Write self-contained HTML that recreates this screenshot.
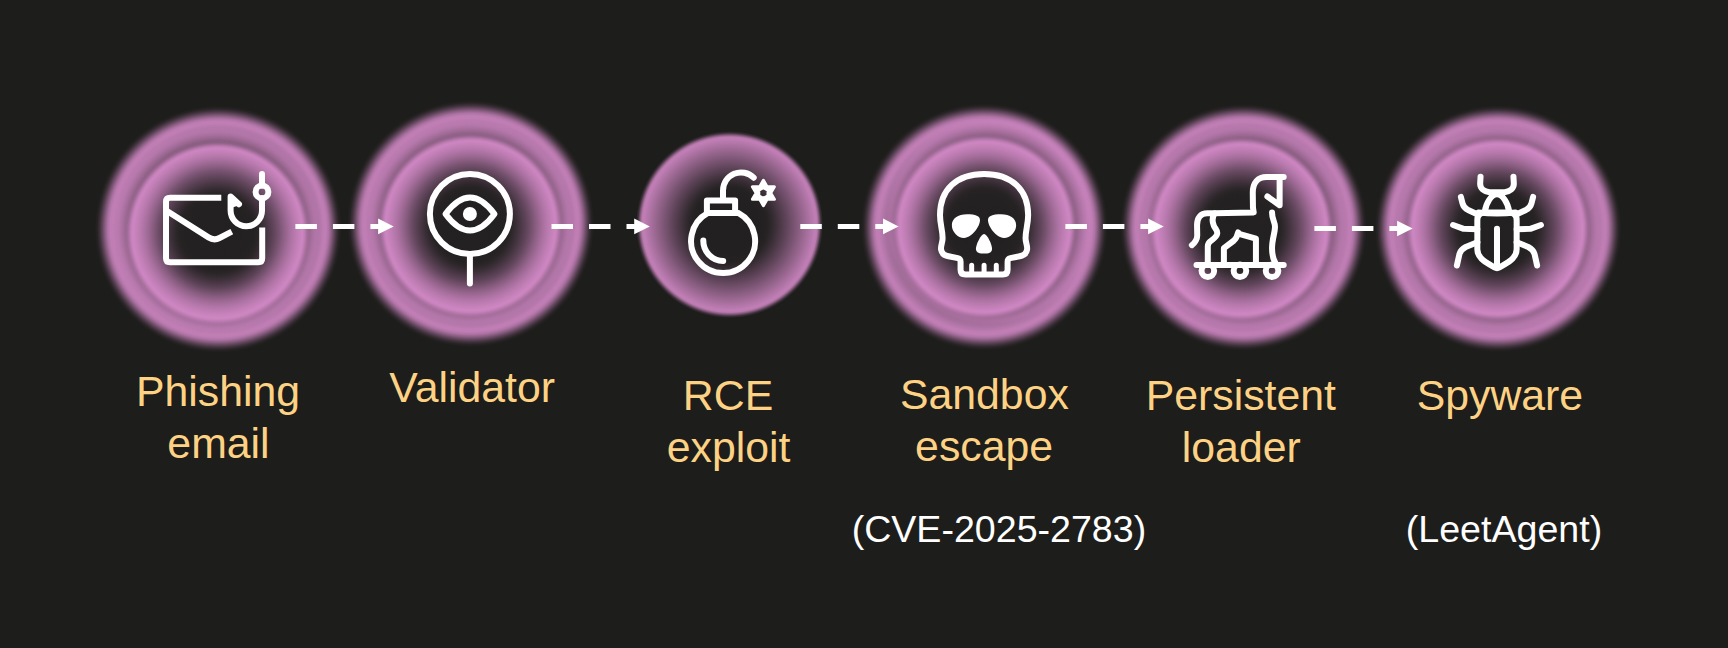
<!DOCTYPE html>
<html lang="en"><head><meta charset="utf-8"><title>Attack chain</title>
<style>
html,body{margin:0;padding:0;background:#1d1d1b;}
body{width:1728px;height:648px;overflow:hidden;position:relative;font-family:"Liberation Sans",sans-serif;}
svg{position:absolute;left:0;top:0;display:block}
text{font-family:"Liberation Sans",sans-serif;}
</style></head><body>
<svg width="1728" height="648" viewBox="0 0 1728 648">
<defs><radialGradient id="gO" gradientUnits="objectBoundingBox" cx="0.5" cy="0.5" r="0.5"><stop offset="0.0000" stop-color="#d48ac8" stop-opacity="0.0012"/><stop offset="0.0208" stop-color="#d48ac8" stop-opacity="0.0012"/><stop offset="0.0417" stop-color="#d48ac8" stop-opacity="0.0013"/><stop offset="0.0625" stop-color="#d48ac8" stop-opacity="0.0014"/><stop offset="0.0833" stop-color="#d48ac8" stop-opacity="0.0014"/><stop offset="0.1042" stop-color="#d48ac8" stop-opacity="0.0015"/><stop offset="0.1250" stop-color="#d48ac8" stop-opacity="0.0016"/><stop offset="0.1458" stop-color="#d48ac8" stop-opacity="0.0017"/><stop offset="0.1667" stop-color="#d48ac8" stop-opacity="0.0018"/><stop offset="0.1875" stop-color="#d48ac8" stop-opacity="0.0020"/><stop offset="0.2083" stop-color="#d48ac8" stop-opacity="0.0021"/><stop offset="0.2292" stop-color="#d48ac8" stop-opacity="0.0023"/><stop offset="0.2500" stop-color="#d48ac8" stop-opacity="0.0025"/><stop offset="0.2708" stop-color="#d48ac8" stop-opacity="0.0027"/><stop offset="0.2917" stop-color="#d48ac8" stop-opacity="0.0030"/><stop offset="0.3125" stop-color="#d48ac8" stop-opacity="0.0034"/><stop offset="0.3333" stop-color="#d48ac8" stop-opacity="0.0038"/><stop offset="0.3542" stop-color="#d48ac8" stop-opacity="0.0044"/><stop offset="0.3750" stop-color="#d48ac8" stop-opacity="0.0053"/><stop offset="0.3958" stop-color="#d48ac8" stop-opacity="0.0065"/><stop offset="0.4167" stop-color="#d48ac8" stop-opacity="0.0084"/><stop offset="0.4375" stop-color="#d48ac8" stop-opacity="0.0117"/><stop offset="0.4583" stop-color="#d48ac8" stop-opacity="0.0183"/><stop offset="0.4792" stop-color="#d48ac8" stop-opacity="0.0338"/><stop offset="0.5000" stop-color="#d48ac8" stop-opacity="0.0641"/><stop offset="0.5208" stop-color="#d48ac8" stop-opacity="0.1053"/><stop offset="0.5417" stop-color="#d48ac8" stop-opacity="0.1509"/><stop offset="0.5625" stop-color="#d48ac8" stop-opacity="0.1983"/><stop offset="0.5833" stop-color="#d48ac8" stop-opacity="0.2465"/><stop offset="0.6042" stop-color="#d48ac8" stop-opacity="0.2951"/><stop offset="0.6250" stop-color="#d48ac8" stop-opacity="0.3440"/><stop offset="0.6458" stop-color="#d48ac8" stop-opacity="0.3931"/><stop offset="0.6667" stop-color="#d48ac8" stop-opacity="0.4423"/><stop offset="0.6875" stop-color="#d48ac8" stop-opacity="0.4915"/><stop offset="0.7083" stop-color="#d48ac8" stop-opacity="0.5408"/><stop offset="0.7292" stop-color="#d48ac8" stop-opacity="0.5902"/><stop offset="0.7500" stop-color="#d48ac8" stop-opacity="0.6396"/><stop offset="0.7708" stop-color="#d48ac8" stop-opacity="0.6890"/><stop offset="0.7917" stop-color="#d48ac8" stop-opacity="0.7384"/><stop offset="0.8125" stop-color="#d48ac8" stop-opacity="0.7879"/><stop offset="0.8333" stop-color="#d48ac8" stop-opacity="0.8373"/><stop offset="0.8542" stop-color="#d48ac8" stop-opacity="0.8868"/><stop offset="0.8750" stop-color="#d48ac8" stop-opacity="0.8843"/><stop offset="0.8958" stop-color="#d48ac8" stop-opacity="0.7902"/><stop offset="0.9167" stop-color="#d48ac8" stop-opacity="0.6062"/><stop offset="0.9375" stop-color="#d48ac8" stop-opacity="0.3934"/><stop offset="0.9583" stop-color="#d48ac8" stop-opacity="0.1982"/><stop offset="0.9792" stop-color="#d48ac8" stop-opacity="0.0554"/><stop offset="1.0000" stop-color="#d48ac8" stop-opacity="0.0000"/></radialGradient><radialGradient id="gM" gradientUnits="objectBoundingBox" cx="0.5" cy="0.5" r="0.5"><stop offset="0.0000" stop-color="#d48ac8" stop-opacity="0.0001"/><stop offset="0.0208" stop-color="#d48ac8" stop-opacity="0.0001"/><stop offset="0.0417" stop-color="#d48ac8" stop-opacity="0.0001"/><stop offset="0.0625" stop-color="#d48ac8" stop-opacity="0.0001"/><stop offset="0.0833" stop-color="#d48ac8" stop-opacity="0.0001"/><stop offset="0.1042" stop-color="#d48ac8" stop-opacity="0.0001"/><stop offset="0.1250" stop-color="#d48ac8" stop-opacity="0.0001"/><stop offset="0.1458" stop-color="#d48ac8" stop-opacity="0.0001"/><stop offset="0.1667" stop-color="#d48ac8" stop-opacity="0.0001"/><stop offset="0.1875" stop-color="#d48ac8" stop-opacity="0.0001"/><stop offset="0.2083" stop-color="#d48ac8" stop-opacity="0.0001"/><stop offset="0.2292" stop-color="#d48ac8" stop-opacity="0.0001"/><stop offset="0.2500" stop-color="#d48ac8" stop-opacity="0.0001"/><stop offset="0.2708" stop-color="#d48ac8" stop-opacity="0.0001"/><stop offset="0.2917" stop-color="#d48ac8" stop-opacity="0.0001"/><stop offset="0.3125" stop-color="#d48ac8" stop-opacity="0.0001"/><stop offset="0.3333" stop-color="#d48ac8" stop-opacity="0.0001"/><stop offset="0.3542" stop-color="#d48ac8" stop-opacity="0.0001"/><stop offset="0.3750" stop-color="#d48ac8" stop-opacity="0.0001"/><stop offset="0.3958" stop-color="#d48ac8" stop-opacity="0.0002"/><stop offset="0.4167" stop-color="#d48ac8" stop-opacity="0.0002"/><stop offset="0.4375" stop-color="#d48ac8" stop-opacity="0.0002"/><stop offset="0.4583" stop-color="#d48ac8" stop-opacity="0.0002"/><stop offset="0.4792" stop-color="#d48ac8" stop-opacity="0.0002"/><stop offset="0.5000" stop-color="#d48ac8" stop-opacity="0.0002"/><stop offset="0.5208" stop-color="#d48ac8" stop-opacity="0.0002"/><stop offset="0.5417" stop-color="#d48ac8" stop-opacity="0.0002"/><stop offset="0.5625" stop-color="#d48ac8" stop-opacity="0.0002"/><stop offset="0.5833" stop-color="#d48ac8" stop-opacity="0.0003"/><stop offset="0.6042" stop-color="#d48ac8" stop-opacity="0.0003"/><stop offset="0.6250" stop-color="#d48ac8" stop-opacity="0.0003"/><stop offset="0.6458" stop-color="#d48ac8" stop-opacity="0.0004"/><stop offset="0.6667" stop-color="#d48ac8" stop-opacity="0.0004"/><stop offset="0.6875" stop-color="#d48ac8" stop-opacity="0.0005"/><stop offset="0.7083" stop-color="#d48ac8" stop-opacity="0.0006"/><stop offset="0.7292" stop-color="#d48ac8" stop-opacity="0.0007"/><stop offset="0.7500" stop-color="#d48ac8" stop-opacity="0.0009"/><stop offset="0.7708" stop-color="#d48ac8" stop-opacity="0.0012"/><stop offset="0.7917" stop-color="#d48ac8" stop-opacity="0.0018"/><stop offset="0.8125" stop-color="#d48ac8" stop-opacity="0.0041"/><stop offset="0.8333" stop-color="#d48ac8" stop-opacity="0.0257"/><stop offset="0.8542" stop-color="#d48ac8" stop-opacity="0.0823"/><stop offset="0.8750" stop-color="#d48ac8" stop-opacity="0.1431"/><stop offset="0.8958" stop-color="#d48ac8" stop-opacity="0.2045"/><stop offset="0.9167" stop-color="#d48ac8" stop-opacity="0.2660"/><stop offset="0.9375" stop-color="#d48ac8" stop-opacity="0.2998"/><stop offset="0.9583" stop-color="#d48ac8" stop-opacity="0.2220"/><stop offset="0.9792" stop-color="#d48ac8" stop-opacity="0.0734"/><stop offset="1.0000" stop-color="#d48ac8" stop-opacity="0.0000"/></radialGradient><radialGradient id="gI" gradientUnits="objectBoundingBox" cx="0.5" cy="0.5" r="0.5"><stop offset="0.0000" stop-color="#d48ac8" stop-opacity="0.0314"/><stop offset="0.0208" stop-color="#d48ac8" stop-opacity="0.0315"/><stop offset="0.0417" stop-color="#d48ac8" stop-opacity="0.0316"/><stop offset="0.0625" stop-color="#d48ac8" stop-opacity="0.0317"/><stop offset="0.0833" stop-color="#d48ac8" stop-opacity="0.0318"/><stop offset="0.1042" stop-color="#d48ac8" stop-opacity="0.0319"/><stop offset="0.1250" stop-color="#d48ac8" stop-opacity="0.0320"/><stop offset="0.1458" stop-color="#d48ac8" stop-opacity="0.0322"/><stop offset="0.1667" stop-color="#d48ac8" stop-opacity="0.0324"/><stop offset="0.1875" stop-color="#d48ac8" stop-opacity="0.0326"/><stop offset="0.2083" stop-color="#d48ac8" stop-opacity="0.0328"/><stop offset="0.2292" stop-color="#d48ac8" stop-opacity="0.0331"/><stop offset="0.2500" stop-color="#d48ac8" stop-opacity="0.0334"/><stop offset="0.2708" stop-color="#d48ac8" stop-opacity="0.0339"/><stop offset="0.2917" stop-color="#d48ac8" stop-opacity="0.0344"/><stop offset="0.3125" stop-color="#d48ac8" stop-opacity="0.0352"/><stop offset="0.3333" stop-color="#d48ac8" stop-opacity="0.0362"/><stop offset="0.3542" stop-color="#d48ac8" stop-opacity="0.0377"/><stop offset="0.3750" stop-color="#d48ac8" stop-opacity="0.0402"/><stop offset="0.3958" stop-color="#d48ac8" stop-opacity="0.0446"/><stop offset="0.4167" stop-color="#d48ac8" stop-opacity="0.0535"/><stop offset="0.4375" stop-color="#d48ac8" stop-opacity="0.0709"/><stop offset="0.4583" stop-color="#d48ac8" stop-opacity="0.0980"/><stop offset="0.4792" stop-color="#d48ac8" stop-opacity="0.1309"/><stop offset="0.5000" stop-color="#d48ac8" stop-opacity="0.1663"/><stop offset="0.5208" stop-color="#d48ac8" stop-opacity="0.2028"/><stop offset="0.5417" stop-color="#d48ac8" stop-opacity="0.2400"/><stop offset="0.5625" stop-color="#d48ac8" stop-opacity="0.2775"/><stop offset="0.5833" stop-color="#d48ac8" stop-opacity="0.3153"/><stop offset="0.6042" stop-color="#d48ac8" stop-opacity="0.3532"/><stop offset="0.6250" stop-color="#d48ac8" stop-opacity="0.3911"/><stop offset="0.6458" stop-color="#d48ac8" stop-opacity="0.4292"/><stop offset="0.6667" stop-color="#d48ac8" stop-opacity="0.4673"/><stop offset="0.6875" stop-color="#d48ac8" stop-opacity="0.5054"/><stop offset="0.7083" stop-color="#d48ac8" stop-opacity="0.5436"/><stop offset="0.7292" stop-color="#d48ac8" stop-opacity="0.5818"/><stop offset="0.7500" stop-color="#d48ac8" stop-opacity="0.6200"/><stop offset="0.7708" stop-color="#d48ac8" stop-opacity="0.6583"/><stop offset="0.7917" stop-color="#d48ac8" stop-opacity="0.6965"/><stop offset="0.8125" stop-color="#d48ac8" stop-opacity="0.7348"/><stop offset="0.8333" stop-color="#d48ac8" stop-opacity="0.7731"/><stop offset="0.8542" stop-color="#d48ac8" stop-opacity="0.8113"/><stop offset="0.8750" stop-color="#d48ac8" stop-opacity="0.8496"/><stop offset="0.8958" stop-color="#d48ac8" stop-opacity="0.8879"/><stop offset="0.9167" stop-color="#d48ac8" stop-opacity="0.9228"/><stop offset="0.9375" stop-color="#d48ac8" stop-opacity="0.7840"/><stop offset="0.9583" stop-color="#d48ac8" stop-opacity="0.4734"/><stop offset="0.9792" stop-color="#d48ac8" stop-opacity="0.1464"/><stop offset="1.0000" stop-color="#d48ac8" stop-opacity="0.0000"/></radialGradient><radialGradient id="gS" gradientUnits="objectBoundingBox" cx="0.5" cy="0.5" r="0.5"><stop offset="0.0000" stop-color="#d48ac8" stop-opacity="0.0258"/><stop offset="0.0208" stop-color="#d48ac8" stop-opacity="0.0259"/><stop offset="0.0417" stop-color="#d48ac8" stop-opacity="0.0260"/><stop offset="0.0625" stop-color="#d48ac8" stop-opacity="0.0261"/><stop offset="0.0833" stop-color="#d48ac8" stop-opacity="0.0262"/><stop offset="0.1042" stop-color="#d48ac8" stop-opacity="0.0263"/><stop offset="0.1250" stop-color="#d48ac8" stop-opacity="0.0264"/><stop offset="0.1458" stop-color="#d48ac8" stop-opacity="0.0266"/><stop offset="0.1667" stop-color="#d48ac8" stop-opacity="0.0268"/><stop offset="0.1875" stop-color="#d48ac8" stop-opacity="0.0270"/><stop offset="0.2083" stop-color="#d48ac8" stop-opacity="0.0273"/><stop offset="0.2292" stop-color="#d48ac8" stop-opacity="0.0277"/><stop offset="0.2500" stop-color="#d48ac8" stop-opacity="0.0281"/><stop offset="0.2708" stop-color="#d48ac8" stop-opacity="0.0286"/><stop offset="0.2917" stop-color="#d48ac8" stop-opacity="0.0293"/><stop offset="0.3125" stop-color="#d48ac8" stop-opacity="0.0303"/><stop offset="0.3333" stop-color="#d48ac8" stop-opacity="0.0317"/><stop offset="0.3542" stop-color="#d48ac8" stop-opacity="0.0340"/><stop offset="0.3750" stop-color="#d48ac8" stop-opacity="0.0378"/><stop offset="0.3958" stop-color="#d48ac8" stop-opacity="0.0452"/><stop offset="0.4167" stop-color="#d48ac8" stop-opacity="0.0598"/><stop offset="0.4375" stop-color="#d48ac8" stop-opacity="0.0834"/><stop offset="0.4583" stop-color="#d48ac8" stop-opacity="0.1131"/><stop offset="0.4792" stop-color="#d48ac8" stop-opacity="0.1456"/><stop offset="0.5000" stop-color="#d48ac8" stop-opacity="0.1795"/><stop offset="0.5208" stop-color="#d48ac8" stop-opacity="0.2141"/><stop offset="0.5417" stop-color="#d48ac8" stop-opacity="0.2491"/><stop offset="0.5625" stop-color="#d48ac8" stop-opacity="0.2843"/><stop offset="0.5833" stop-color="#d48ac8" stop-opacity="0.3196"/><stop offset="0.6042" stop-color="#d48ac8" stop-opacity="0.3551"/><stop offset="0.6250" stop-color="#d48ac8" stop-opacity="0.3907"/><stop offset="0.6458" stop-color="#d48ac8" stop-opacity="0.4263"/><stop offset="0.6667" stop-color="#d48ac8" stop-opacity="0.4619"/><stop offset="0.6875" stop-color="#d48ac8" stop-opacity="0.4976"/><stop offset="0.7083" stop-color="#d48ac8" stop-opacity="0.5333"/><stop offset="0.7292" stop-color="#d48ac8" stop-opacity="0.5690"/><stop offset="0.7500" stop-color="#d48ac8" stop-opacity="0.6048"/><stop offset="0.7708" stop-color="#d48ac8" stop-opacity="0.6405"/><stop offset="0.7917" stop-color="#d48ac8" stop-opacity="0.6763"/><stop offset="0.8125" stop-color="#d48ac8" stop-opacity="0.7121"/><stop offset="0.8333" stop-color="#d48ac8" stop-opacity="0.7479"/><stop offset="0.8542" stop-color="#d48ac8" stop-opacity="0.7837"/><stop offset="0.8750" stop-color="#d48ac8" stop-opacity="0.8195"/><stop offset="0.8958" stop-color="#d48ac8" stop-opacity="0.8553"/><stop offset="0.9167" stop-color="#d48ac8" stop-opacity="0.8911"/><stop offset="0.9375" stop-color="#d48ac8" stop-opacity="0.8594"/><stop offset="0.9583" stop-color="#d48ac8" stop-opacity="0.5627"/><stop offset="0.9792" stop-color="#d48ac8" stop-opacity="0.1835"/><stop offset="1.0000" stop-color="#d48ac8" stop-opacity="0.0000"/></radialGradient></defs>
<g id="glows"><circle cx="218.2" cy="229.2" r="123.4" fill="url(#gO)"/><circle cx="216.2" cy="230.2" r="105.0" fill="url(#gM)"/><circle cx="217.5" cy="233.2" r="92.6" fill="url(#gI)"/><circle cx="470.7" cy="223.7" r="123.4" fill="url(#gO)"/><circle cx="469.7" cy="222.7" r="105.0" fill="url(#gM)"/><circle cx="470.5" cy="225.8" r="92.6" fill="url(#gI)"/><circle cx="984.3" cy="227.0" r="123.4" fill="url(#gO)"/><circle cx="989.3" cy="222.0" r="105.0" fill="url(#gM)"/><circle cx="984.6" cy="227.0" r="92.6" fill="url(#gI)"/><circle cx="1243.5" cy="227.4" r="123.4" fill="url(#gO)"/><circle cx="1243.5" cy="227.4" r="105.0" fill="url(#gM)"/><circle cx="1241.3" cy="229.3" r="92.6" fill="url(#gI)"/><circle cx="1498.1" cy="228.7" r="123.4" fill="url(#gO)"/><circle cx="1498.1" cy="228.7" r="105.0" fill="url(#gM)"/><circle cx="1497.8" cy="229.0" r="92.6" fill="url(#gI)"/><circle cx="729.5" cy="224.6" r="93.5" fill="url(#gS)"/></g>
<g id="arrows"><path d="M295.4 226.4H379.7" stroke="#fff" stroke-width="5" stroke-dasharray="21.5 16" fill="none"/><path d="M378.1 218.6L393.7 226.4L378.1 234.2Z" fill="#fff"/><path d="M551.5 226.4H635.8" stroke="#fff" stroke-width="5" stroke-dasharray="21.5 16" fill="none"/><path d="M634.2 218.6L649.8 226.4L634.2 234.2Z" fill="#fff"/><path d="M800.3 226.4H884.6" stroke="#fff" stroke-width="5" stroke-dasharray="21.5 16" fill="none"/><path d="M883.0 218.6L898.6 226.4L883.0 234.2Z" fill="#fff"/><path d="M1065.4 226.4H1149.7" stroke="#fff" stroke-width="5" stroke-dasharray="21.5 16" fill="none"/><path d="M1148.1 218.6L1163.7 226.4L1148.1 234.2Z" fill="#fff"/><path d="M1314.4 228.5H1398.7" stroke="#fff" stroke-width="5" stroke-dasharray="21.5 16" fill="none"/><path d="M1397.1 220.7L1412.7 228.5L1397.1 236.3Z" fill="#fff"/></g>
<g id="icons" fill="none" stroke="#fff" stroke-width="6" stroke-linecap="round" stroke-linejoin="round">
<!-- 1: phishing envelope + hook -->
<g id="ic-phish">
<path d="M221.3 197.8H170Q166 197.8 166 201.8V258.2Q166 262.2 170 262.2H258.2Q262.2 262.2 262.2 258.2V227.6" stroke-linecap="butt"/>
<path d="M167 211L208.5 237.4Q214 241 219.5 238L231.8 231.7" stroke-linecap="butt"/>
<path d="M262 174V185.5M262 198.3V210.6A15.7 15.7 0 0 1 230.6 210.6V196.4L239 204.3"/><path d="M230.6 196.4L239 204.3L230.6 207Z" fill="#fff" stroke-width="2"/>
<circle cx="262" cy="191.9" r="6.4"/>
</g>
<!-- 2: validator eye magnifier -->
<g id="ic-eye">
<circle cx="469.9" cy="214" r="40"/>
<path d="M469.9 254V283.5"/>
<path d="M445.5 214Q470 181 494.5 214Q470 247 445.5 214Z"/>
<circle cx="469.9" cy="214" r="7" fill="#fff" stroke="none"/>
</g>
<!-- 3: bomb -->
<g id="ic-bomb">
<path d="M708 212.9A32 32 0 1 0 738.2 212.9H708Z"/>
<path d="M706.9 212.9V200.6H735.1V212.9" stroke-linecap="butt"/>
<path d="M723 197.7V190.4A18 18 0 0 1 753.7 177.7"/>
<path d="M703.3 240.4A20.3 20.3 0 0 0 723.2 261"/>
<path fill="#fff" fill-rule="evenodd" stroke-width="3" d="M763.4 180.3L767.1 186.7L774.4 186.7L770.7 193.0L774.4 199.3L767.1 199.3L763.4 205.7L759.7 199.3L752.4 199.3L756.1 193.0L752.4 186.7L759.7 186.7ZM763.4 187.7L758.8 190.3L758.8 195.7L763.4 198.3L768.0 195.7L768.0 190.3Z"/>
</g>
<!-- 4: skull -->
<g id="ic-skull" transform="translate(930 165) scale(0.185185)" stroke-width="32.4">
<path d="M292 48C145 48 54 132 54 270C54 320 68 350 68 395C68 420 56 436 60 458C64 480 78 489 100 493L150 503Q165 506 165 522V565Q165 591 191 591H393Q419 591 419 565V522Q419 506 434 503L484 493C506 489 520 480 524 458C528 436 516 420 516 395C516 350 530 320 530 270C530 132 439 48 292 48Z"/>
<path d="M225 591V541M292 591V541M358 591V541" stroke-width="27"/>
<path fill="#fff" stroke="none" d="M118 325C118 290 150 266 200 266C245 266 272 275 270 300C268 335 225 393 185 394C150 395 118 360 118 325Z"/>
<path fill="#fff" stroke="none" d="M465.2 325C465.2 290 433.2 266 383.2 266C338.2 266 311.2 275 313.2 300C315.2 335 358.2 393 398.2 394C433.2 395 465.2 360 465.2 325Z"/>
<path fill="#fff" stroke="none" d="M292 372C275 372 248 430 248 452C248 475 270 478 292 478C314 478 335 475 335 452C335 430 309 372 292 372Z"/>
</g>
<!-- 5: trojan horse -->
<g id="ic-horse" transform="translate(1185 165) scale(0.185185)" stroke-width="32.4">
<path d="M62 540H533"/>
<circle cx="123.3" cy="571" r="34"/><circle cx="296.7" cy="571" r="34"/><circle cx="470" cy="571" r="34"/>
<path d="M533 65H440C395 65 366 95 366 150L367 230L371 256L157 261H120C85 261 65 285 65 325L66 380C66 405 55 418 37 433"/>
<path d="M160 261C146 282 146 305 156 329C163 345 176 352 174 370C172 390 150 400 134 414Q123 424 123 440V540"/>
<path d="M511 65V217L445 170"/>
<path d="M470 257C470 295 486 305 486 335C486 365 470 400 470 450C470 495 476 510 490 532"/>
<path d="M210 540V449L263 409Q280 395 287 364"/>
<path d="M287 370L383 397V540"/>
</g>
<!-- 6: bug -->
<g id="ic-bug" transform="translate(1432 160) scale(0.200602)" stroke-width="30">
<path d="M242 83L240 119C240 142 259 158 287 161H361C389 158 408 142 408 119L406 83"/>
<path d="M264 256C268 216 296 171 324 171C352 171 380 216 384 256"/>
<path d="M232 262Q324 272 416 262"/>
<path d="M226 300V445C226 477 250 500 282 518L312 536Q324 543 336 536L366 518C398 500 422 477 422 445V300Q422 262 384 262H264Q226 262 226 300Z"/>
<path d="M324 343V536"/>
<path d="M144 184L152 216Q158 240 180 249L228 272M105 324L158 343L226 345M226 410L168 434Q144 446 137 468L124 526"/>
<path d="M504 184L496 216Q490 240 468 249L420 272M543 324L490 343L422 345M422 410L480 434Q504 446 511 468L524 526"/>
</g>

</g>
<g id="labels"><text x="218.0" y="405.8" font-size="42.8" fill="#fdd284" text-anchor="middle">Phishing</text><text x="218.5" y="457.8" font-size="42.8" fill="#fdd284" text-anchor="middle">email</text><text x="472.2" y="402.2" font-size="42.8" fill="#fdd284" text-anchor="middle">Validator</text><text x="728.0" y="409.9" font-size="42.8" fill="#fdd284" text-anchor="middle">RCE</text><text x="728.6" y="461.9" font-size="42.8" fill="#fdd284" text-anchor="middle">exploit</text><text x="984.4" y="408.8" font-size="42.8" fill="#fdd284" text-anchor="middle">Sandbox</text><text x="984.1" y="460.6" font-size="42.8" fill="#fdd284" text-anchor="middle">escape</text><text x="1240.8" y="409.9" font-size="42.8" fill="#fdd284" text-anchor="middle">Persistent</text><text x="1241.3" y="462.1" font-size="42.8" fill="#fdd284" text-anchor="middle">loader</text><text x="1499.9" y="409.8" font-size="42.8" fill="#fdd284" text-anchor="middle">Spyware</text><text x="998.9" y="541.5" font-size="37.6" fill="#ffffff" text-anchor="middle">(CVE-2025-2783)</text><text x="1504.0" y="541.5" font-size="37.6" fill="#ffffff" text-anchor="middle">(LeetAgent)</text></g>
</svg>
</body></html>
